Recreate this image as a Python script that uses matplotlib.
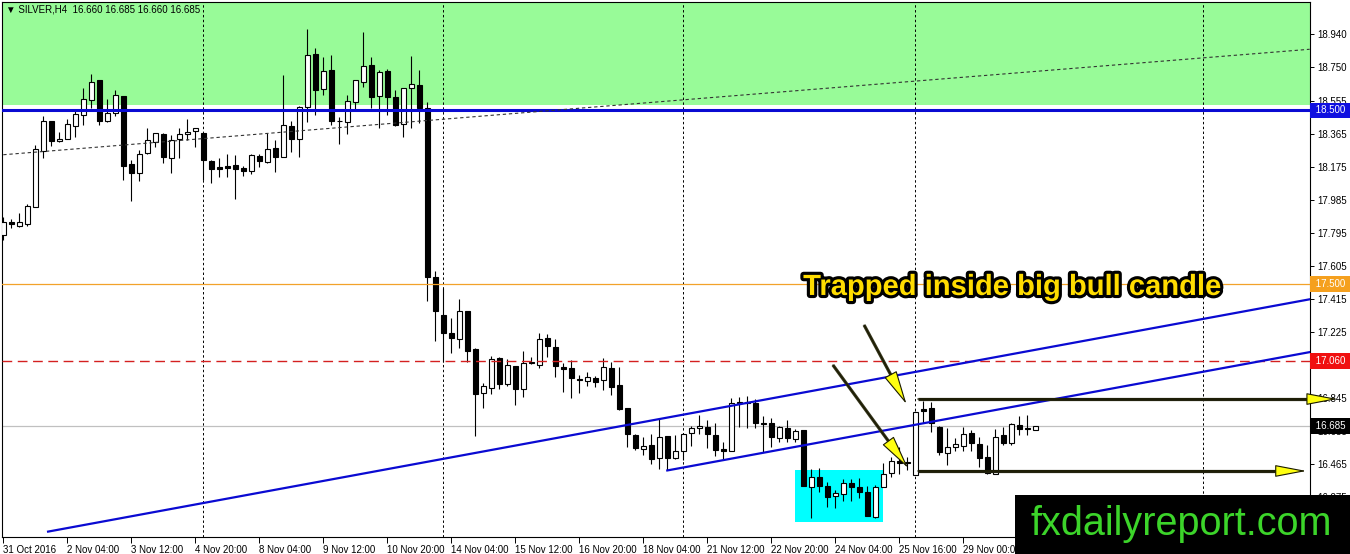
import matplotlib
matplotlib.use("Agg")
import matplotlib.pyplot as plt
import matplotlib.patheffects as pe
from matplotlib.patches import Rectangle
from matplotlib.transforms import blended_transform_factory

# SILVER H4 candles (bar index = position)
opens = [17.783, 17.857, 17.837, 17.847, 17.946, 18.268, 18.438, 18.323, 18.338, 18.412,
         18.472, 18.560, 18.675, 18.438, 18.487, 18.583, 18.190, 18.138, 18.253, 18.320,
         18.365, 18.228, 18.334, 18.362, 18.380, 18.372, 18.209, 18.174, 18.180, 18.185,
         18.171, 18.150, 18.240, 18.205, 18.282, 18.231, 18.411, 18.334, 18.522, 18.825,
         18.625, 18.733, 18.437, 18.435, 18.550, 18.666, 18.762, 18.583, 18.727, 18.576,
         18.422, 18.628, 18.647, 18.512, 17.543, 17.323, 17.217, 17.183, 17.347, 17.127,
         16.875, 16.904, 17.073, 16.926, 17.029, 16.895, 17.054, 17.035, 17.189, 17.137,
         17.022, 17.016, 16.956, 16.943, 16.960, 16.948, 17.016, 16.920, 16.785, 16.632,
         16.550, 16.574, 16.498, 16.626, 16.498, 16.542, 16.642, 16.671, 16.680, 16.632,
         16.550, 16.542, 16.824, 16.814, 16.814, 16.699, 16.699, 16.613, 16.671, 16.607,
         16.661, 16.334, 16.389, 16.338, 16.281, 16.292, 16.354, 16.331, 16.306, 16.162,
         16.334, 16.415, 16.482, 16.476, 16.402, 16.780, 16.786, 16.680, 16.530, 16.561,
         16.570, 16.642, 16.580, 16.504, 16.408, 16.632, 16.584, 16.690, 16.670, 16.660]
highs = [17.888, 17.874, 17.912, 17.962, 18.301, 18.468, 18.438, 18.376, 18.449, 18.507,
         18.627, 18.708, 18.675, 18.564, 18.618, 18.583, 18.215, 18.273, 18.401, 18.372,
         18.369, 18.359, 18.397, 18.449, 18.398, 18.372, 18.215, 18.224, 18.248, 18.244,
         18.180, 18.248, 18.248, 18.369, 18.330, 18.704, 18.440, 18.526, 18.967, 18.858,
         18.806, 18.819, 18.461, 18.589, 18.675, 18.953, 18.810, 18.733, 18.737, 18.618,
         18.627, 18.813, 18.733, 18.550, 17.578, 17.476, 17.304, 17.413, 17.347, 17.131,
         16.929, 17.086, 17.082, 17.068, 17.029, 17.116, 17.082, 17.221, 17.213, 17.183,
         17.045, 17.064, 16.977, 16.993, 16.971, 17.073, 17.054, 17.022, 16.785, 16.638,
         16.622, 16.636, 16.728, 16.626, 16.632, 16.642, 16.684, 16.747, 16.718, 16.699,
         16.593, 16.843, 16.849, 16.855, 16.837, 16.741, 16.728, 16.684, 16.718, 16.665,
         16.661, 16.434, 16.440, 16.363, 16.315, 16.377, 16.377, 16.382, 16.338, 16.344,
         16.472, 16.503, 16.561, 16.504, 16.772, 16.829, 16.824, 16.684, 16.670, 16.613,
         16.680, 16.661, 16.622, 16.574, 16.665, 16.680, 16.702, 16.741, 16.747, 16.685]
lows = [17.754, 17.822, 17.828, 17.837, 17.946, 18.228, 18.296, 18.318, 18.334, 18.349,
        18.416, 18.512, 18.416, 18.434, 18.468, 18.100, 17.981, 18.096, 18.250, 18.292,
        18.199, 18.142, 18.228, 18.330, 18.288, 18.100, 18.081, 18.119, 18.116, 17.988,
        18.125, 18.135, 18.173, 18.196, 18.148, 18.231, 18.263, 18.234, 18.436, 18.474,
        18.589, 18.416, 18.307, 18.365, 18.507, 18.637, 18.512, 18.397, 18.474, 18.410,
        18.346, 18.397, 18.426, 17.405, 17.175, 17.054, 17.106, 17.131, 17.054, 16.628,
        16.785, 16.866, 16.895, 16.914, 16.805, 16.852, 17.041, 17.016, 17.082, 16.967,
        16.881, 16.843, 16.872, 16.914, 16.910, 16.891, 16.862, 16.776, 16.564, 16.546,
        16.517, 16.463, 16.434, 16.430, 16.492, 16.488, 16.568, 16.638, 16.555, 16.513,
        16.492, 16.542, 16.679, 16.674, 16.671, 16.536, 16.564, 16.593, 16.589, 16.589,
        16.338, 16.153, 16.306, 16.216, 16.210, 16.253, 16.253, 16.267, 16.166, 16.153,
        16.331, 16.389, 16.408, 16.431, 16.402, 16.699, 16.651, 16.517, 16.459, 16.542,
        16.542, 16.542, 16.446, 16.408, 16.408, 16.574, 16.574, 16.632, 16.632, 16.660]
closes = [17.860, 17.845, 17.857, 17.950, 18.277, 18.438, 18.326, 18.334, 18.420, 18.480,
          18.564, 18.666, 18.441, 18.487, 18.589, 18.182, 18.138, 18.248, 18.330, 18.369,
          18.234, 18.330, 18.362, 18.376, 18.398, 18.215, 18.165, 18.165, 18.168, 18.161,
          18.154, 18.242, 18.211, 18.277, 18.234, 18.415, 18.337, 18.518, 18.819, 18.618,
          18.727, 18.441, 18.441, 18.553, 18.675, 18.756, 18.576, 18.721, 18.579, 18.416,
          18.627, 18.650, 18.516, 17.540, 17.347, 17.221, 17.188, 17.347, 17.115, 16.868,
          16.914, 17.069, 16.924, 17.033, 16.895, 17.045, 17.045, 17.183, 17.144, 17.029,
          17.010, 16.958, 16.948, 16.964, 16.939, 17.022, 16.910, 16.780, 16.636, 16.555,
          16.568, 16.492, 16.619, 16.501, 16.538, 16.636, 16.674, 16.684, 16.636, 16.546,
          16.542, 16.814, 16.814, 16.820, 16.703, 16.693, 16.619, 16.676, 16.613, 16.656,
          16.338, 16.392, 16.338, 16.273, 16.296, 16.357, 16.334, 16.306, 16.166, 16.331,
          16.408, 16.482, 16.469, 16.472, 16.766, 16.772, 16.699, 16.536, 16.565, 16.578,
          16.638, 16.584, 16.497, 16.415, 16.622, 16.587, 16.693, 16.665, 16.664, 16.685]

time_ticks = list(range(0, 121, 8))
time_labels = ["31 Oct 2016", "2 Nov 04:00", "3 Nov 12:00", "4 Nov 20:00", "8 Nov 04:00",
               "9 Nov 12:00", "10 Nov 20:00", "14 Nov 04:00", "15 Nov 12:00", "16 Nov 20:00",
               "18 Nov 04:00", "21 Nov 12:00", "22 Nov 20:00", "24 Nov 04:00", "25 Nov 16:00",
               "29 Nov 00:00"]
price_ticks = [18.940, 18.750, 18.555, 18.365, 18.175, 17.985, 17.795, 17.605, 17.415,
               17.225, 17.035, 16.845, 16.655, 16.465, 16.275]
grid_bars = [25, 55, 85, 114, 150]

# objects drawn on the chart
zone_bottom = 18.53
levels = [18.500, 17.500, 17.060, 16.685]
level_colors = ["#0a0ad2", "#f2a22a", "#d42020", "#c0c0c0"]
label_colors = ["#1010e0", "#f5a01e", "#f01010", "#000000"]
trend_dotted = [(0, 18.245), (163.3, 18.852)]
channel_long = [(5.6, 16.076), (163.3, 17.413)]
channel_short = [(83.0, 16.428), (163.3, 17.109)]
box_bars = (98.96, 110.0)
box_prices = (16.133, 16.430)
hlines_arrows = [(114.3, 16.839, 166.8, 16.839), (114.3, 16.425, 162.9, 16.425)]
diag_arrows = [(107.6, 17.265, 112.9, 16.810), (103.7, 17.035, 113.1, 16.442)]

W, H = 1350, 554
fig = plt.figure(figsize=(W / 100, H / 100), dpi=100)
fig.patch.set_facecolor("white")
ax = fig.add_axes([2 / W, 1 - 537 / H, (1310 - 2) / W, (537 - 2) / H])
ax.set_xlim(-0.16, 163.34)
ax.set_ylim(16.045, 19.124)

fnt = ["Liberation Sans", "DejaVu Sans"]

# green zone
ax.axhspan(zone_bottom, 20, color="#98fb98", zorder=0, lw=0)
# grid
for g in grid_bars:
    ax.axvline(g, color="black", lw=0.7, ls=(0, (2.5, 2.5)), zorder=1)
# cyan box
ax.add_patch(Rectangle((box_bars[0], box_prices[0]), box_bars[1] - box_bars[0],
                       box_prices[1] - box_prices[0], fc="#00ffff", ec="none", zorder=1))

# candles
n = len(opens)
xs = list(range(n))
ax.vlines(xs, lows, highs, color="black", lw=0.8, zorder=3)
bottoms = [min(o, c) for o, c in zip(opens, closes)]
heights = [max(abs(c - o), 0.004) for o, c in zip(opens, closes)]
faces = ["white" if c >= o else "black" for o, c in zip(opens, closes)]
ax.bar(xs, heights, bottom=bottoms, width=0.64, color=faces, edgecolor="black",
       lw=0.8, zorder=4)

# level lines
ax.axhline(levels[0], color=level_colors[0], lw=2.2, zorder=5)
ax.axhline(levels[1], color=level_colors[1], lw=0.9, zorder=5)
ax.axhline(levels[2], color=level_colors[2], lw=1.0, ls=(0, (7, 4)), zorder=5)
ax.axhline(levels[3], color=level_colors[3], lw=0.9, zorder=2)

# trend lines
ax.plot(*zip(*trend_dotted), color="#333333", lw=0.8, ls=(0, (3, 2.5)), zorder=5)
ax.plot(*zip(*channel_long), color="#0a0ad2", lw=1.6, zorder=5)
ax.plot(*zip(*channel_short), color="#0a0ad2", lw=1.6, zorder=5)

# arrows
for x0, y0, x1, y1 in hlines_arrows:
    ax.plot([x0, x1 - 2.5], [y0, y1], color="#23230f", lw=2.3, zorder=6,
            solid_capstyle="butt", clip_on=False)
    ax.annotate("", xy=(x1, y1), xytext=(x0, y0), annotation_clip=False, zorder=7,
                arrowprops=dict(arrowstyle="-|>,head_length=2.0,head_width=0.38",
                                fc="#ffff10", ec="#1a1a00", lw=0.8, shrinkA=0, shrinkB=0,
                                mutation_scale=10, clip_on=False))
for x0, y0, x1, y1 in diag_arrows:
    ax.plot([x0, x0 + (x1 - x0) * 0.8], [y0, y0 + (y1 - y0) * 0.8], color="#33331a",
            lw=2.3, zorder=6, solid_capstyle="butt")
    ax.annotate("", xy=(x1, y1), xytext=(x0, y0), zorder=7,
                arrowprops=dict(arrowstyle="-|>,head_length=2.2,head_width=0.45",
                                fc="#ffff10", ec="#1a1a00", lw=0.8, shrinkA=0, shrinkB=0,
                                mutation_scale=10))

ax.text(126.1, 17.438, "Trapped inside big bull candle", ha="center", va="baseline",
        fontsize=21, fontweight="bold", color="#ffdc00", family=fnt, zorder=8,
        path_effects=[pe.withStroke(linewidth=4.5, foreground="black")])

# axes styling
for s in ax.spines.values():
    s.set_color("black")
    s.set_linewidth(0.8)
ax.yaxis.tick_right()
ax.set_yticks(price_ticks)
ax.set_yticklabels([f"{p:.3f}" for p in price_ticks])
ax.tick_params(axis="y", direction="out", length=3, pad=2, labelsize=7, width=0.7)
ax.set_xticks(time_ticks)
ax.set_xticklabels(time_labels)
ax.tick_params(axis="x", direction="out", length=4, pad=1.5, labelsize=7, width=0.7)
for lab in ax.get_xticklabels() + ax.get_yticklabels():
    lab.set_family(fnt)
for lab in ax.get_xticklabels():
    lab.set_horizontalalignment("left")

# price labels on the right scale
tr = blended_transform_factory(ax.transAxes, ax.transData)
for p, c in zip(levels, label_colors):
    ax.text(1.002, p, f" {p:.3f} ", transform=tr, ha="left", va="center", fontsize=7,
            color="white", family=fnt, zorder=9, clip_on=False,
            bbox=dict(boxstyle="square,pad=0.3", fc=c, ec="none"))

fig.text(6 / W, 1 - 10 / H, "\u25bc SILVER,H4  16.660 16.685 16.660 16.685", ha="left",
         va="center", fontsize=7, family=fnt)

# watermark
fig.add_artist(Rectangle((1015 / W, 0), 1 - 1015 / W, 59 / H, transform=fig.transFigure,
                         fc="black", ec="none", zorder=10))
fig.text(1181.5 / W, 1 - 535 / H, "fxdailyreport.com", ha="center", va="baseline",
         fontsize=28.5, color="#3cd42a", family=fnt, zorder=11)

fig.savefig("out.png", dpi=100)
